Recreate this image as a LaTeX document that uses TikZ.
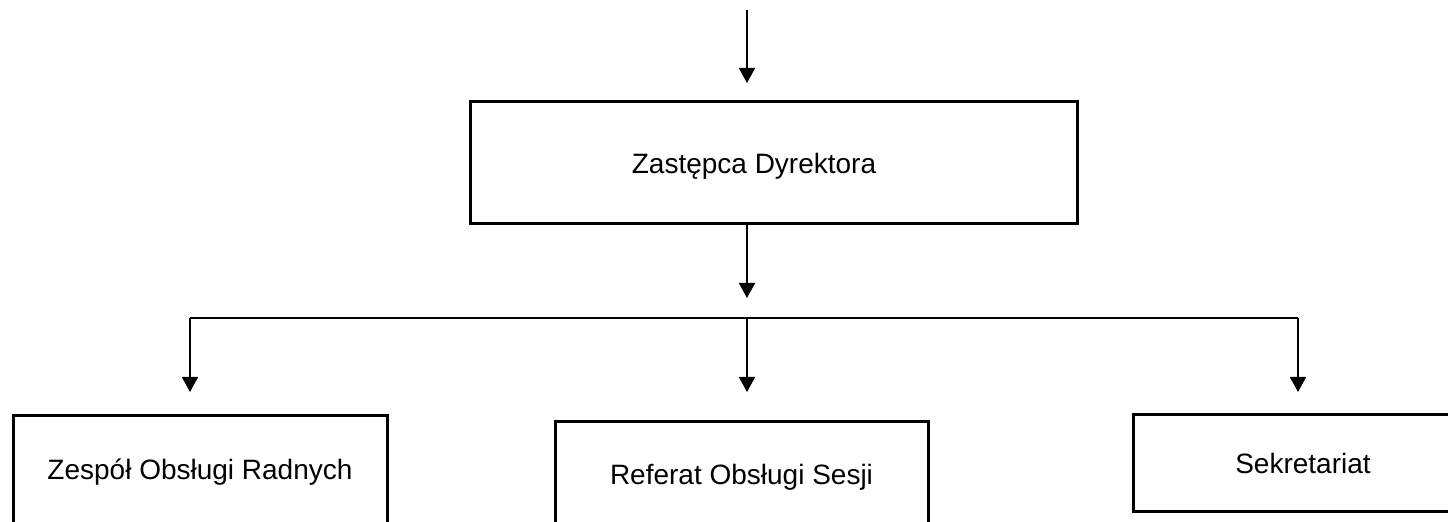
\documentclass[tikz,border=0pt]{standalone}
\usepackage{fontspec}
\setmainfont{Liberation Sans}
\usetikzlibrary{arrows.meta}

\begin{document}
\begin{tikzpicture}[x=0.5pt, y=-0.5pt,
    box/.style={draw, line width=1.5pt, inner sep=0pt},
    lbl/.style={font=\fontsize{14}{17}\selectfont, inner sep=0pt},
    arr/.style={line width=0.8pt, -{Triangle[width=8pt,length=7.5pt]}},
    bus/.style={line width=0.65pt}]
            \clip (0,0) rectangle (1448,522);
            \fill[white] (0,0) rectangle (1448,522);
            \node[box, minimum width=303.5pt, minimum height=61pt] (zd) at (773.5,163) {};
            \node[lbl] (zdt) at (754,166) {Zastępca Dyrektora};
            \node[box, lbl, minimum width=187pt, minimum height=56pt] (zor) at (200,472) {Zespół Obsługi Radnych};
            \node[box, lbl, minimum width=186.5pt, minimum height=55pt] (ros) at (741.5,477) {Referat Obsługi Sesji};
            \node[box, lbl, minimum width=170pt, minimum height=48.5pt] (sek) at (1303,463.5) {Sekretariat};
            \coordinate (t0) at (747,10);
            \coordinate (t1) at (747,83);
            \coordinate (t2) at (747,298);
            \coordinate (busL) at (190,318);
            \coordinate (busR) at (1298,318);
            \draw[arr] (t0) -- (t1);
            \draw[arr] (zd.south -| t0) -- (t2);
            \draw[bus] (busL) -- (busR);
            \foreach \x in {190,747,1298}
                \draw[arr] (\x,318) -- (\x,392);
        \end{tikzpicture}
\end{document}
